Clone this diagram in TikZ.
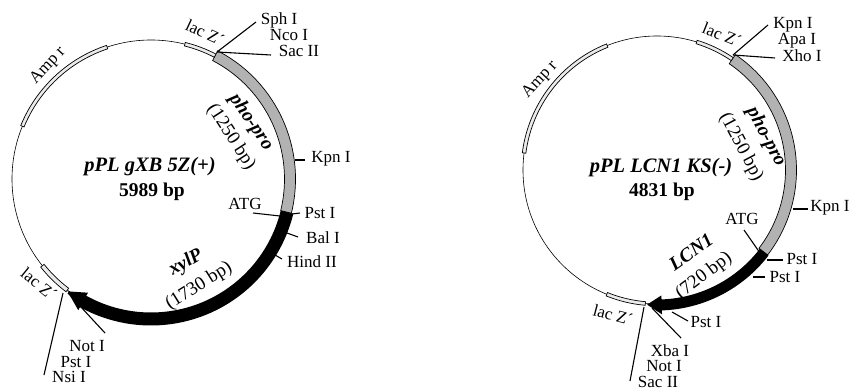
\documentclass[tikz,border=0pt]{standalone}
\usepackage{fontspec}
\setmainfont{Liberation Serif}
\usetikzlibrary{calc}
\tikzset{
  x=1pt,y=1pt,
  lbl/.style={inner sep=0pt,font=\fontsize{17}{19}\selectfont},
  bplbl/.style={inner sep=0pt,font=\fontsize{19}{21}\selectfont},
  gene/.style={inner sep=0pt,font=\fontsize{19.5}{21}\selectfont\bfseries\itshape},
  size/.style={inner sep=0pt,font=\fontsize{19.5}{21}\selectfont\bfseries},
  ring/.style={draw=black,line width=0.6pt},
  marker/.style={draw=black,line width=0.7pt,fill=black!8},
  promoter/.style={draw=black,line width=0.7pt,fill=black!30},
  cds/.style={fill=black},
  site/.style={draw=black,line width=1.1pt},
}
% centre, start angle, end angle, radius, half width
\newcommand{\ringband}[6]{%
  \path[#1] ($(#2)+(#3:#5+#6)$) arc[start angle=#3,end angle=#4,radius=#5+#6]
    -- ($(#2)+(#4:#5-#6)$) arc[start angle=#4,end angle=#3,radius=#5-#6] -- cycle;}
% centre, start angle, base angle, tip angle, radius, half width, head half width
\newcommand{\ringarrow}[7]{%
  \path[cds] ($(#1)+(#2:#5+#6)$) arc[start angle=#2,end angle=#3,radius=#5+#6]
    -- ($(#1)+(#3:#5+#7)$) -- ($(#1)+(#4:#5)$) -- ($(#1)+(#3:#5-#7)$)
    -- ($(#1)+(#3:#5-#6)$) arc[start angle=#3,end angle=#2,radius=#5-#6] -- cycle;}
\newcommand{\sitelink}[5]{%
  \coordinate (#1a) at (#2,#3); \coordinate (#1b) at (#4,#5);
  \draw[site] (#1a) -- (#1b);}
\begin{document}
\begin{tikzpicture}
\useasboundingbox (0,0) rectangle (850,-390);
% ---------- left plasmid
\coordinate (cA) at (151,-179);
\node[ring,circle,minimum size=278pt,inner sep=0pt] (ringA) at (cA) {};
\ringband{marker}{cA}{157.7}{108.4}{139}{1.8}
\ringband{marker}{cA}{75.9}{62.5}{139}{1.8}
\ringband{marker}{cA}{218.6}{233}{139}{2.2}
\ringband{promoter}{cA}{62.5}{-13.7}{139}{5.5}
\ringarrow{cA}{-13.7}{-119}{-126.6}{140}{6.5}{10}
\node[lbl,rotate=47] (ampA) at (48,-66) {Amp r};
\node[lbl,rotate=-25] (lacA) at (205,-33) {lac Z´};
\node[lbl] (sphA) at (279,-20) {Sph I};
\node[lbl] (ncoA) at (289,-35) {Nco I};
\node[lbl] (sacA) at (299,-51) {Sac II};
\node[lbl] (kpnA) at (331,-159) {Kpn I};
\node[lbl] (atgA) at (245,-204) {ATG};
\node[lbl] (pstA) at (320,-213) {Pst I};
\node[lbl] (balA) at (323,-238) {Bal I};
\node[lbl] (hindA) at (312,-262) {Hind II};
\node[lbl] (notA) at (87,-346) {Not I};
\node[lbl] (pstB) at (76,-362) {Pst I};
\node[lbl] (nsiA) at (69,-377) {Nsi I};
\node[lbl,rotate=-39] (lacB) at (39,-284) {lac Z´};
\node[gene,rotate=-56] (phoA) at (251,-122) {pho-pro};
\node[bplbl,rotate=-57] (bpA) at (231,-137) {(1250 bp)};
\node[gene,font=\fontsize{20.5}{22}\selectfont\bfseries\itshape] (nameA) at (150,-167) {pPL gXB 5Z(+)};
\node[size] (sizeA) at (152,-192) {5989 bp};
\node[gene,rotate=30] (xylA) at (186,-263) {xylP};
\node[bplbl,rotate=32] (bpB) at (199,-286) {(1730 bp)};
\sitelink{l1}{217}{-52}{256}{-22}
\sitelink{l2}{217}{-52}{271}{-55}
\sitelink{l3}{295}{-160}{305}{-160}
\sitelink{l4}{253}{-213}{280}{-216}
\sitelink{l5}{292}{-214}{300}{-213}
\sitelink{l6}{287}{-233}{298}{-237}
\sitelink{l7}{275}{-255}{282}{-259}
\sitelink{l8}{68}{-293}{105}{-333}
\sitelink{l9}{63}{-293}{44}{-375}
% ---------- right plasmid
\coordinate (cB) at (657,-170);
\node[ring,circle,minimum size=268pt,inner sep=0pt] (ringB) at (cB) {};
\ringband{marker}{cB}{172.7}{111.8}{134}{1.8}
\ringband{marker}{cB}{72.8}{55.8}{134}{1.8}
\ringband{marker}{cB}{248}{265}{134}{1.8}
\ringband{promoter}{cB}{55.8}{-37.5}{134}{5.5}
\ringarrow{cB}{-37.5}{-88}{-94.2}{135}{5.5}{9.5}
\node[lbl,rotate=47] (ampB) at (540,-80) {Amp r};
\node[lbl,rotate=-22] (lacC) at (722,-35) {lac Z´};
\node[lbl] (kpnB) at (793,-25) {Kpn I};
\node[lbl] (apaB) at (797,-41) {Apa I};
\node[lbl] (xhoB) at (802,-56) {Xho I};
\node[gene,rotate=-62] (phoB) at (766,-137) {pho-pro};
\node[bplbl,rotate=-62] (bpC) at (741,-147) {(1250 bp)};
\node[gene,font=\fontsize{20.5}{22}\selectfont\bfseries\itshape] (nameB) at (661,-168) {pPL LCN1 KS(-)};
\node[size] (sizeB) at (662,-192) {4831 bp};
\node[lbl] (kpnC) at (830,-208) {Kpn I};
\node[lbl] (atgB) at (742,-219) {ATG};
\node[lbl] (pstC) at (802,-259) {Pst I};
\node[lbl] (pstD) at (785,-277) {Pst I};
\node[gene,rotate=35] (lcnB) at (691,-252) {LCN1};
\node[bplbl,rotate=37] (bpD) at (704,-276) {(720 bp)};
\node[lbl] (pstE) at (706,-322) {Pst I};
\node[lbl] (xbaB) at (670,-351) {Xba I};
\node[lbl] (notB) at (664,-366) {Not I};
\node[lbl] (sacB) at (658,-382) {Sac II};
\node[lbl,rotate=-15] (lacD) at (613,-315) {lac Z´};
\sitelink{r1}{733}{-55}{768}{-25}
\sitelink{r2}{733}{-55}{775}{-58}
\sitelink{r3}{793}{-209}{808}{-209}
\sitelink{r4}{744}{-230}{760}{-253}
\sitelink{r5}{767}{-260}{783}{-260}
\sitelink{r6}{753}{-277}{765}{-277}
\sitelink{r7}{672}{-312}{688}{-321}
\sitelink{r8}{652}{-308}{681}{-338}
\sitelink{r9}{644}{-307}{630}{-381}
\end{tikzpicture}
\end{document}
